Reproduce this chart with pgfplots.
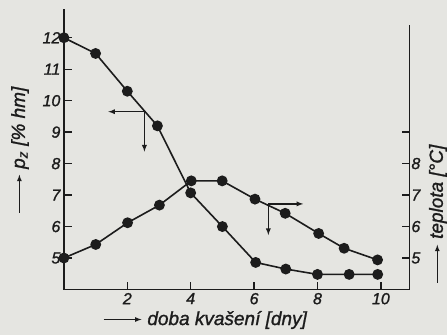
\documentclass[border=0pt]{standalone}
\usepackage{fontspec}
\setmainfont{Liberation Sans}[FakeBold=1.2]
\usepackage{pgfplots}
\pgfplotsset{compat=1.18}
\definecolor{paper}{RGB}{229,229,225}
\definecolor{ink}{RGB}{28,28,28}
\newcommand{\arr}{\tikz[baseline=-0.55ex]\draw[ink,line width=1.2pt,-latex](0,0)--(2em,0);}
\begin{document}
\begin{tikzpicture}
\path[use as bounding box, fill=paper] (-63.9pt,-45.5pt) rectangle (383.1pt,289.5pt);
\begin{axis}[
 scale only axis, width=345.5pt, height=280.1pt,
 xmin=0, xmax=10.9, ymin=4, ymax=12.9,
 axis x line=bottom, axis y line=left,
 axis line style={-, ink, line width=1.4pt},
 xtick={2,4,6,8,10}, ytick={5,...,12},
 tick align=inside, major tick length=8pt, tick style={ink, line width=1.3pt},
 ticklabel style={font=\itshape\fontsize{16}{16}\selectfont, text=ink},
 /pgf/number format/assume math mode=true,
 clip=false,
]
\addplot[ink, line width=1.6pt, mark=*, mark size=4.6pt] coordinates {
 (0,12.0) (1,11.5) (2,10.3) (2.95,9.2) (4,7.07) (5,6.0) (6.05,4.86) (7,4.65) (8,4.48) (9,4.48) (9.9,4.48)
};
\draw[ink, line width=1.3pt, -latex] (axis cs:2.54,9.65) -- (axis cs:1.4,9.65);
\draw[ink, line width=1.3pt, -latex] (axis cs:2.54,9.65) -- (axis cs:2.54,8.38);
\draw[ink, line width=1.3pt, -latex] (axis cs:6.45,6.72) -- (axis cs:7.55,6.72);
\draw[ink, line width=1.3pt, -latex] (axis cs:6.45,6.72) -- (axis cs:6.45,5.73);
\end{axis}
\begin{axis}[
 scale only axis, width=345.5pt, height=264.5pt,
 xmin=0, xmax=10.85, ymin=4, ymax=12.4,
 axis x line=none, axis y line=right,
 axis line style={-, ink, line width=1.4pt},
 ytick={5,6,7,8,9}, yticklabels={5,6,7,8,{}},
 tick align=inside, major tick length=7pt, tick style={ink, line width=1.3pt},
 ticklabel style={font=\itshape\fontsize{16}{16}\selectfont, text=ink},
 yticklabel style={xshift=-1.5pt},
 /pgf/number format/assume math mode=true,
 clip=false,
]
\addplot[ink, line width=1.6pt, mark=*, mark size=4.6pt] coordinates {
 (0,5.0) (1,5.43) (2,6.12) (3,6.68) (4,7.45) (4.97,7.45) (6,6.87) (6.95,6.42) (8,5.78) (8.8,5.31) (9.85,4.94)
};
\end{axis}
\node[rotate=90, text=ink, font=\itshape\fontsize{19}{19}\selectfont] at (-43.9pt,139.5pt) {\arr\ p\textsubscript{z} [\% hm]};
\node[rotate=90, text=ink, font=\itshape\fontsize{19}{19}\selectfont] at (374pt,75.5pt) {\arr\ teplota [°C]};
\node[text=ink, font=\itshape\fontsize{19}{19}\selectfont] at (141pt,-30.5pt) {\arr\ doba kvašení [dny]};
\end{tikzpicture}
\end{document}
